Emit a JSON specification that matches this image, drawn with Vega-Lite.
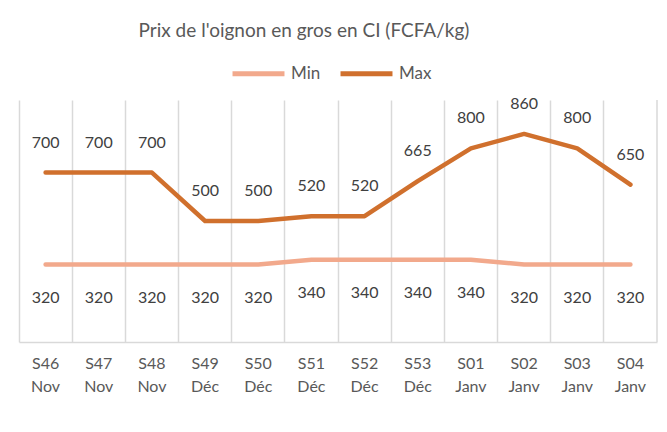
{
  "$schema": "https://vega.github.io/schema/vega-lite/v6.json",
  "width": 638,
  "height": 242,
  "autosize": {"type": "none"},
  "padding": {"left": 19, "top": 100, "right": 10, "bottom": 90},
  "background": "white",
  "config": {"view": {"stroke": null}, "font": "Lato"},
  "title": {
    "text": "Prix de l'oignon en gros en CI (FCFA/kg)",
    "fontSize": 19,
    "fontWeight": "normal",
    "color": "#595959",
    "anchor": "middle",
    "frame": "group",
    "dx": -34,
    "offset": 4
  },
  "data": {
    "values": [
      {"semaine": "S46 Nov", "serie": "Min", "prix": 320},
      {"semaine": "S47 Nov", "serie": "Min", "prix": 320},
      {"semaine": "S48 Nov", "serie": "Min", "prix": 320},
      {"semaine": "S49 Déc", "serie": "Min", "prix": 320},
      {"semaine": "S50 Déc", "serie": "Min", "prix": 320},
      {"semaine": "S51 Déc", "serie": "Min", "prix": 340},
      {"semaine": "S52 Déc", "serie": "Min", "prix": 340},
      {"semaine": "S53 Déc", "serie": "Min", "prix": 340},
      {"semaine": "S01 Janv", "serie": "Min", "prix": 340},
      {"semaine": "S02 Janv", "serie": "Min", "prix": 320},
      {"semaine": "S03 Janv", "serie": "Min", "prix": 320},
      {"semaine": "S04 Janv", "serie": "Min", "prix": 320},
      {"semaine": "S46 Nov", "serie": "Max", "prix": 700},
      {"semaine": "S47 Nov", "serie": "Max", "prix": 700},
      {"semaine": "S48 Nov", "serie": "Max", "prix": 700},
      {"semaine": "S49 Déc", "serie": "Max", "prix": 500},
      {"semaine": "S50 Déc", "serie": "Max", "prix": 500},
      {"semaine": "S51 Déc", "serie": "Max", "prix": 520},
      {"semaine": "S52 Déc", "serie": "Max", "prix": 520},
      {"semaine": "S53 Déc", "serie": "Max", "prix": 665},
      {"semaine": "S01 Janv", "serie": "Max", "prix": 800},
      {"semaine": "S02 Janv", "serie": "Max", "prix": 860},
      {"semaine": "S03 Janv", "serie": "Max", "prix": 800},
      {"semaine": "S04 Janv", "serie": "Max", "prix": 650}
    ]
  },
  "encoding": {
    "x": {
      "field": "semaine",
      "type": "ordinal",
      "sort": ["S46 Nov", "S47 Nov", "S48 Nov", "S49 Déc", "S50 Déc", "S51 Déc", "S52 Déc", "S53 Déc", "S01 Janv", "S02 Janv", "S03 Janv", "S04 Janv"],
      "scale": {
        "type": "band",
        "paddingInner": 0,
        "paddingOuter": 0,
        "domain": ["S46 Nov", "S47 Nov", "S48 Nov", "S49 Déc", "S50 Déc", "S51 Déc", "S52 Déc", "S53 Déc", "S01 Janv", "S02 Janv", "S03 Janv", "S04 Janv"]
      },
      "axis": {
        "title": null,
        "labelAngle": 0,
        "labelExpr": "split(datum.label, ' ')",
        "labelFontSize": 16,
        "labelColor": "#595959",
        "labelPadding": 13,
        "labelLineHeight": 23,
        "ticks": false,
        "domainColor": "#d9d9d9",
        "domainWidth": 1.5,
        "grid": true,
        "gridColor": "#d9d9d9",
        "gridWidth": 1.5,
        "bandPosition": 0
      }
    }
  },
  "layer": [
    {
      "transform": [{"filter": "datum.semaine == 'S04 Janv' && datum.serie == 'Max'"}],
      "mark": {"type": "rule", "color": "#d9d9d9", "strokeWidth": 1.5},
      "encoding": {"x": {"field": "semaine", "type": "ordinal", "bandPosition": 1}}
    },
    {
      "mark": {"type": "line", "strokeWidth": 4.5, "strokeJoin": "round", "strokeCap": "round"},
      "encoding": {
        "y": {"field": "prix", "type": "quantitative", "scale": {"domain": [0, 1000]}, "axis": null},
        "color": {
          "field": "serie",
          "type": "nominal",
          "scale": {"domain": ["Min", "Max"], "range": ["#F2A98C", "#D0702D"]},
          "legend": {
            "title": null,
            "orient": "none",
            "direction": "horizontal",
            "legendX": 211,
            "legendY": -55,
            "symbolType": "stroke",
            "symbolSize": 2700,
            "symbolStrokeWidth": 5,
            "labelFontSize": 17,
            "labelColor": "#595959",
            "columnPadding": 9,
            "labelOffset": 4
          }
        }
      }
    },
    {
      "transform": [{"filter": "datum.serie == 'Max'"}],
      "mark": {"type": "text", "dy": -30, "fontSize": 16, "color": "#404040"},
      "encoding": {
        "y": {"field": "prix", "type": "quantitative", "scale": {"domain": [0, 1000]}, "axis": null},
        "text": {"field": "prix", "type": "quantitative"}
      }
    },
    {
      "transform": [{"filter": "datum.serie == 'Min'"}],
      "mark": {"type": "text", "dy": 33, "fontSize": 16, "color": "#404040"},
      "encoding": {
        "y": {"field": "prix", "type": "quantitative", "scale": {"domain": [0, 1000]}, "axis": null},
        "text": {"field": "prix", "type": "quantitative"}
      }
    }
  ]
}
